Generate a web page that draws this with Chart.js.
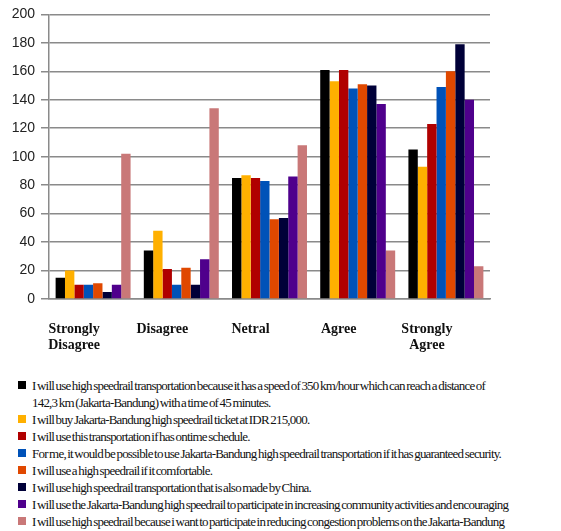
<!DOCTYPE html>
<html lang="en">
<head>
    <meta charset="UTF-8">
    <title>High speed rail survey</title>
    <script src="https://cdn.jsdelivr.net/npm/chart.js"></script>
    <style>
        body {
            margin: 0;
            background-color: #ffffff;
            width: 561px;
            height: 531px;
            position: relative;
            overflow: hidden;
        }

        #chartBox {
            position: absolute;
            left: 0;
            top: 0;
            width: 561px;
            height: 360px;
        }

        #legend {
            position: absolute;
            left: 18px;
            top: 377px;
            width: 540px;
            font-family: "Liberation Serif", "Times New Roman", serif;
            font-size: 13px;
            letter-spacing: -0.8px;
            word-spacing: -1px;
            color: #111;
        }

        .item {
            display: flex;
            align-items: flex-start;
            line-height: 17px;
            white-space: nowrap;
        }

        .swatch {
            width: 8px;
            height: 8px;
            margin-top: 4px;
            margin-right: 6px;
            flex: none;
        }
    </style>
</head>
<body>
    <div id="chartBox"><canvas id="surveyChart"></canvas></div>
    <div id="legend"></div>

    <script>
        // kategori jawaban
        const categories = [['Strongly', 'Disagree'], 'Disagree', 'Netral', 'Agree', ['Strongly', 'Agree']];
        const yTicks = [0, 20, 40, 60, 80, 100, 120, 140, 160, 180, 200];

        const seriesNames = [
            ['I will use high speedrail transportation because it has a speed of 350 km/hour which can reach a distance of',
             '142,3 km (Jakarta-Bandung) with a time of 45 minutes.'],
            'I will buy  Jakarta-Bandung high speedrail ticket at IDR 215,000.',
            'I will use this transportation if has ontime schedule.',
            'For me, it would be possible to use Jakarta-Bandung high speedrail transportation if it has guaranteed security.',
            'I will use a high speedrail if it comfortable.',
            'I will use high speedrail transportation that is also made by China.',
            'I will use  the Jakarta-Bandung high speedrail to participate in increasing community activities and encouraging',
            'I will use high speedrail because i want to participate in reducing congestion problems on the Jakarta-Bandung'
        ];

        const speed350 = [15, 34, 85, 161, 105];
        const ticket215 = [20, 48, 87, 153, 93];
        const onTime = [10, 21, 85, 161, 123];
        const security = [10, 10, 83, 148, 149];
        const comfortable = [11, 22, 56, 151, 160];
        const madeByChina = [5, 10, 57, 150, 179];
        const community = [10, 28, 86, 137, 140];
        const congestion = [102, 134, 108, 34, 23];

        const seriesValues = [speed350, ticket215, onTime, security, comfortable, madeByChina, community, congestion];
        const seriesColors = ['#000000', '#ffb000', '#b00000', '#0052b8', '#e04800', '#000038', '#4f008c', '#c97878'];

        const datasets = seriesValues.map((vals, i) => ({
            label: Array.isArray(seriesNames[i]) ? seriesNames[i].join(' ') : seriesNames[i],
            data: vals,
            backgroundColor: seriesColors[i],
            borderWidth: 0
        }));

        new Chart(document.getElementById('surveyChart'), {
            type: 'bar',
            data: { labels: categories, datasets: datasets },
            options: {
                responsive: true,
                maintainAspectRatio: false,
                animation: false,
                layout: { padding: { top: 8, right: 71, left: 0, bottom: 0 } },
                plugins: { legend: { display: false }, tooltip: { enabled: false } },
                datasets: { bar: { barPercentage: 1, categoryPercentage: 0.85 } },
                scales: {
                    x: {
                        afterFit: (scale) => { scale.height = 61; },
                        grid: { display: false },
                        border: { display: true, color: '#8a8a8a', width: 1.5 },
                        ticks: {
                            color: '#111',
                            padding: 14,
                            labelOffset: -19,
                            maxRotation: 0,
                            autoSkip: false,
                            font: { family: '"Liberation Serif", "Times New Roman", serif', size: 14, weight: 'bold', lineHeight: 1.15 }
                        }
                    },
                    y: {
                        min: 0,
                        max: 200,
                        afterFit: (scale) => { scale.width = 49; },
                        afterBuildTicks: (scale) => { scale.ticks = yTicks.map(v => ({ value: v })); },
                        grid: { color: '#8a8a8a', lineWidth: 1.5, tickLength: 8 },
                        border: { display: true, color: '#8a8a8a', width: 1.5 },
                        ticks: {
                            color: '#222',
                            padding: 6,
                            font: { family: '"Liberation Sans", Arial, sans-serif', size: 14 }
                        }
                    }
                }
            }
        });

        // legenda manual supaya teks panjang bisa turun baris
        const legendBox = document.getElementById('legend');
        seriesNames.forEach((name, i) => {
            const row = document.createElement('div');
            row.className = 'item';
            const sw = document.createElement('span');
            sw.className = 'swatch';
            sw.style.backgroundColor = seriesColors[i];
            const txt = document.createElement('span');
            const lines = Array.isArray(name) ? name : [name];
            lines.forEach((ln, k) => {
                if (k > 0) txt.appendChild(document.createElement('br'));
                txt.appendChild(document.createTextNode(ln));
            });
            row.appendChild(sw);
            row.appendChild(txt);
            legendBox.appendChild(row);
        });
    </script>
</body>
</html>
